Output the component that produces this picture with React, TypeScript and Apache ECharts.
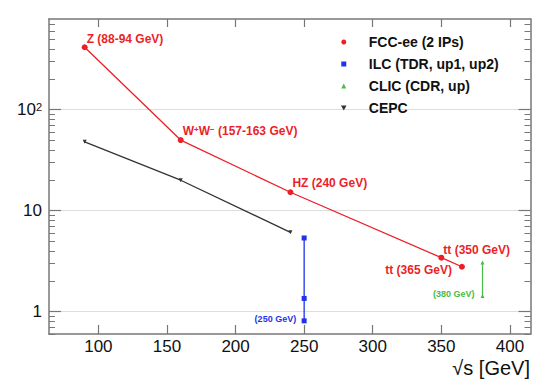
import React, { useEffect, useRef } from 'react';
import * as echarts from 'echarts';

// ---- data ----
const fccEnergy = [90, 160, 240, 350, 365];
const fccLumi = [415, 50, 15.2, 3.42, 2.78];
const fccTags = ['Z (88-94 GeV)', 'W{s|+}W{s|−} (157-163 GeV)', 'HZ (240 GeV)', 'tt (350 GeV)', 'tt (365 GeV)'];

const ilcEnergy = [250, 250, 250];
const ilcLumi = [5.36, 1.35, 0.81];
const ilcTag = '(250 GeV)';

const clicEnergy = [380, 380];
const clicLumi = [1.43, 3.07];
const clicTag = '(380 GeV)';

const cepcEnergy = [90, 160, 240];
const cepcLumi = [48, 20, 6.1];

const seriesNames = ['FCC-ee (2 IPs)', 'ILC (TDR, up1, up2)', 'CLIC (CDR, up)', 'CEPC'];

const xTicks = [100, 150, 200, 250, 300, 350, 400];
const xRange = [64, 415];
const yMajor = [1, 10, 100];
const yMinor = [0.6, 0.7, 0.8, 0.9, 2, 3, 4, 5, 6, 7, 8, 9, 20, 30, 40, 50, 60, 70, 80, 90, 200, 300, 400, 500, 600, 700];
const yRange = [0.6, 790];

// ---- styles ----
const RED = '#ec1f28';
const BLUE = '#1d33ec';
const GREEN = '#4cbb48';
const BLACK = '#333333';
const FRAME = '#777777';
const FONT = '"Liberation Sans", Arial, Helvetica, sans-serif';

// label placement for FCC points: [dx, dy, align]
const fccLabelPlace: [number, number, string][] = [
  [2, -8, 'left'],
  [2, -9, 'left'],
  [2, -9, 'left'],
  [2, -8, 'left'],
  [-10, 3, 'right'],
];

export default function App() {
  const ref = useRef<HTMLDivElement>(null);
  useEffect(() => {
    if (!ref.current) return;
    const chart = echarts.init(ref.current, undefined, { renderer: 'svg' });

    const yBase = { type: 'log', logBase: 10, min: yRange[0], max: yRange[1] };
    const xBase = { type: 'value', min: xRange[0], max: xRange[1] };
    const lineFrame = { show: true, lineStyle: { color: FRAME, width: 1.5 } };

    const fccData = fccEnergy.map((x, i) => ({
      value: [x, fccLumi[i]],
      label: {
        show: true,
        position: 'inside',
        formatter: fccTags[i],
        align: fccLabelPlace[i][2],
        verticalAlign: 'middle',
        offset: [fccLabelPlace[i][0], fccLabelPlace[i][1]],
        color: RED,
        fontSize: 12,
        fontWeight: 'bold',
        fontFamily: FONT,
        rich: { s: { fontSize: 8, fontWeight: 'bold', color: RED, verticalAlign: 'top', fontFamily: FONT } },
      },
    }));

    const ilcData = ilcEnergy.map((x, i) => ({
      value: [x, ilcLumi[i]],
      label: i === ilcEnergy.length - 1
        ? { show: true, position: 'inside', formatter: ilcTag, align: 'right', verticalAlign: 'middle', offset: [-8, -2], color: BLUE, fontSize: 9, fontWeight: 'bold', fontFamily: FONT }
        : { show: false },
    }));

    const clicData = clicEnergy.map((x, i) => ({
      value: [x, clicLumi[i]],
      label: i === 0
        ? { show: true, position: 'inside', formatter: clicTag, align: 'right', verticalAlign: 'middle', offset: [-8, -2], color: GREEN, fontSize: 9, fontWeight: 'bold', fontFamily: FONT }
        : { show: false },
    }));

    const cepcData = cepcEnergy.map((x, i) => [x, cepcLumi[i]]);

    const downTri = 'path://M0,0L10,0L5,9Z';

    chart.setOption({
      animation: false,
      backgroundColor: '#ffffff',
      textStyle: { fontFamily: FONT },
      grid: { left: 49, top: 19, right: 3.5, bottom: 51, containLabel: false, outerBoundsMode: 'none' },
      legend: {
        orient: 'vertical',
        left: 336,
        top: 30,
        itemGap: 8,
        itemWidth: 40,
        itemHeight: 5,
        symbolKeepAspect: true,
        textStyle: { fontSize: 14, fontWeight: 'bold', color: '#111', fontFamily: FONT },
        data: [
          { name: seriesNames[0], icon: 'circle', itemStyle: { color: RED } },
          { name: seriesNames[1], icon: 'path://M0,0h10v10h-10z', itemStyle: { color: BLUE } },
          { name: seriesNames[2], icon: 'path://M5,0L10,10L0,10Z', itemStyle: { color: GREEN } },
          { name: seriesNames[3], icon: downTri, itemStyle: { color: BLACK } },
        ],
      },
      graphic: [
        {
          type: 'text',
          right: 4,
          top: 358,
          style: { text: '√s [GeV]', fontSize: 20, fill: '#111', fontFamily: FONT },
        },
      ],
      xAxis: [
        {
          ...xBase,
          position: 'bottom',
          axisLine: lineFrame,
          axisTick: { show: true, inside: true, length: 9, customValues: xTicks, lineStyle: { color: FRAME, width: 1.2 } },
          axisLabel: { customValues: xTicks, fontSize: 17, color: '#111', margin: 4, fontFamily: FONT },
          splitLine: { show: false },
        },
        {
          ...xBase,
          position: 'top',
          axisLine: lineFrame,
          axisTick: { show: true, inside: true, length: 8, customValues: xTicks, lineStyle: { color: FRAME, width: 1.2 } },
          axisLabel: { show: false },
          splitLine: { show: false },
        },
      ],
      yAxis: [
        {
          ...yBase,
          position: 'left',
          axisLine: lineFrame,
          axisTick: { show: true, inside: true, length: 12, customValues: yMajor, lineStyle: { color: FRAME, width: 1.2 } },
          axisLabel: {
            customValues: yMajor,
            fontSize: 17,
            color: '#111',
            margin: 7,
            fontFamily: FONT,
            formatter: (v: number) => {
              const e = Math.round(Math.log10(v));
              return e >= 2 ? '10{s|' + e + '}' : String(Math.round(v));
            },
            rich: { s: { fontSize: 11, color: '#111', verticalAlign: 'top', fontFamily: FONT } },
          },
          splitLine: { show: true, lineStyle: { color: '#dddddd', width: 1 } },
        },
        {
          ...yBase,
          position: 'left',
          axisLine: { show: false },
          axisTick: { show: true, inside: true, length: 6, customValues: yMinor, lineStyle: { color: FRAME, width: 1 } },
          axisLabel: { show: false },
          splitLine: { show: false },
        },
        {
          ...yBase,
          position: 'right',
          axisLine: lineFrame,
          axisTick: { show: true, inside: true, length: 12, customValues: yMajor, lineStyle: { color: FRAME, width: 1.2 } },
          axisLabel: { show: false },
          splitLine: { show: false },
        },
        {
          ...yBase,
          position: 'right',
          axisLine: { show: false },
          axisTick: { show: true, inside: true, length: 6, customValues: yMinor, lineStyle: { color: FRAME, width: 1 } },
          axisLabel: { show: false },
          splitLine: { show: false },
        },
      ],
      series: [
        {
          name: seriesNames[0],
          type: 'line',
          data: fccData,
          symbol: 'circle',
          symbolSize: 6,
          itemStyle: { color: RED },
          lineStyle: { color: RED, width: 1.3 },
          z: 5,
        },
        {
          name: seriesNames[1],
          type: 'line',
          data: ilcData,
          symbol: 'rect',
          symbolSize: 5,
          itemStyle: { color: BLUE },
          lineStyle: { color: BLUE, width: 1.3 },
        },
        {
          name: seriesNames[2],
          type: 'line',
          data: clicData,
          symbol: 'triangle',
          symbolSize: 4,
          itemStyle: { color: GREEN },
          lineStyle: { color: GREEN, width: 1.2 },
        },
        {
          name: seriesNames[3],
          type: 'line',
          data: cepcData,
          symbol: downTri,
          symbolSize: 4,
          itemStyle: { color: BLACK },
          lineStyle: { color: BLACK, width: 1.3 },
        },
      ],
    });
    return () => chart.dispose();
  }, []);
  return <div ref={ref} style={{ position: 'fixed', left: 0, top: 0, width: 534, height: 385 }} />;
}
